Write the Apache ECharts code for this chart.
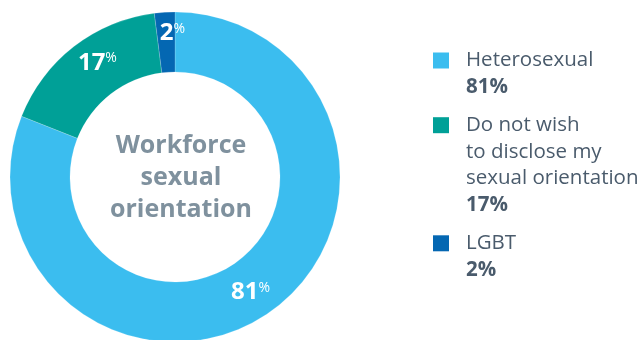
<!DOCTYPE html>
<html>
<head>
<meta charset="utf-8">
<script src="https://cdn.jsdelivr.net/npm/echarts@6/dist/echarts.min.js"></script>
<style>
  html, body { margin: 0; padding: 0; background: #ffffff; }
  #chart { width: 644px; height: 340px; }
</style>
</head>
<body>
<div id="chart"></div>
<script>
// Workforce sexual orientation breakdown
const categories = ['Heterosexual', 'Do not wish to disclose my sexual orientation', 'LGBT'];
const legendLines = [
  ['Heterosexual'],
  ['Do not wish', 'to disclose my', 'sexual orientation'],
  ['LGBT']
];
const shares = [81, 17, 2];
const colors = ['#3bbdef', '#00a097', '#0467b2'];
const centerTitle = ['Workforce', 'sexual', 'orientation'];
// small nudges for the in-ring percentage labels
const labelNudges = [[-2, 1], [7, -5], [6, -6]];

const FONT = '"Open Sans", "Noto Sans", sans-serif';
const textDark = '#4a5b6c';

const chart = echarts.init(document.getElementById('chart'), null, { renderer: 'canvas' });

// Rich styles for legend: a coloured square per item plus name / value lines
const legendRich = {
  n: { fontFamily: FONT, fontSize: 20.5, color: textDark, lineHeight: 26.7 },
  v: { fontFamily: FONT, fontSize: 20.5, fontWeight: 'bold', color: textDark, lineHeight: 26.7 },
  sp: { width: 33, lineHeight: 26.7 }
};
colors.forEach((c, i) => {
  legendRich['b' + i] = { width: 16, height: 16, backgroundColor: c, lineHeight: 26.7 };
  legendRich['g' + i] = { width: 17, lineHeight: 26.7 };
});

chart.setOption({
  backgroundColor: '#ffffff',
  animation: false,
  legend: {
    orient: 'vertical',
    left: 433,
    top: 50,
    icon: 'none',
    itemWidth: 0,
    itemHeight: 0,
    itemGap: 17,
    padding: 0,
    selectedMode: false,
    data: categories,
    formatter: function (name) {
      const i = categories.indexOf(name);
      const lines = legendLines[i];
      let s = '{b' + i + '|}{g' + i + '|}{n|' + lines[0] + '}';
      for (let k = 1; k < lines.length; k++) s += '\n{sp|}{n|' + lines[k] + '}';
      s += '\n{sp|}{v|' + shares[i] + '%}';
      return s;
    },
    textStyle: { rich: legendRich, padding: [0, 0, 0, -5] }
  },
  title: {
    text: centerTitle.join('\n'),
    left: 176,
    top: 173,
    textAlign: 'center',
    textVerticalAlign: 'middle',
    textStyle: {
      fontFamily: FONT,
      fontSize: 25,
      fontWeight: 'bold',
      color: '#7f919e',
      lineHeight: 32
    }
  },
  series: [{
    type: 'pie',
    center: [175, 177],
    radius: [105, 165],
    startAngle: 90,
    clockwise: true,
    avoidLabelOverlap: false,
    itemStyle: { borderColor: 'rgba(255,255,255,0.35)', borderWidth: 0.5 },
    label: {
      show: true,
      position: 'inside',
      formatter: function (p) { return '{num|' + p.value + '}{pct|%}'; },
      rich: {
        num: { fontFamily: FONT, fontSize: 24, fontWeight: 'bold', color: '#ffffff', lineHeight: 28 },
        pct: { fontFamily: FONT, fontSize: 14, color: '#ffffff', lineHeight: 14, padding: [0, 0, 9, 0] }
      }
    },
    labelLine: { show: false },
    emphasis: { disabled: true },
    data: categories.map((name, i) => ({
      name: name,
      value: shares[i],
      itemStyle: { color: colors[i] },
      label: { offset: labelNudges[i] }
    }))
  }]
});
</script>
</body>
</html>
